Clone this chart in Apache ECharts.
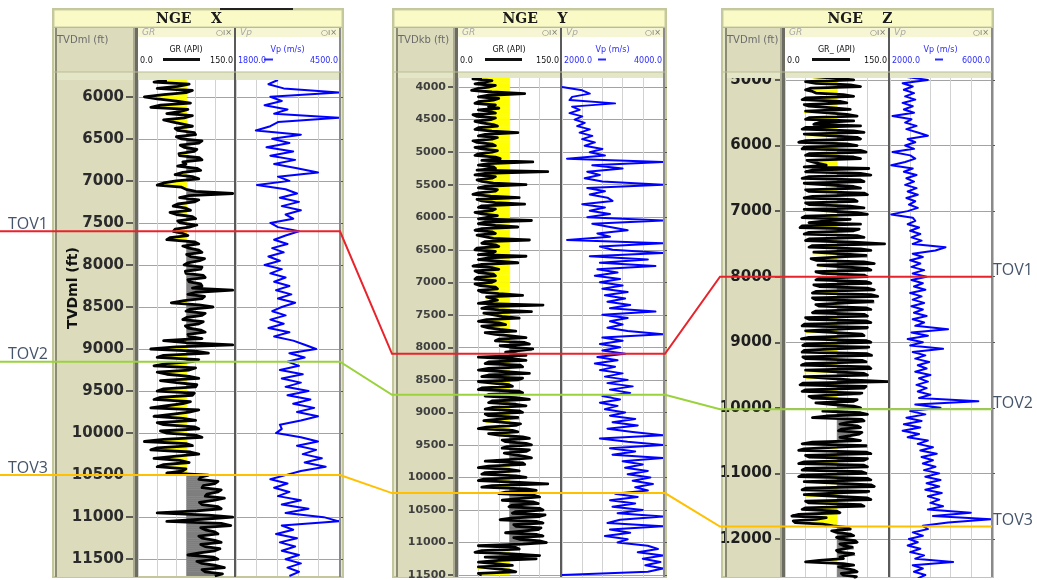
<!DOCTYPE html>
<html>
<head>
<meta charset="utf-8">
<title>NGE well correlation</title>
<script src="https://cdn.jsdelivr.net/npm/echarts@6.0.0/dist/echarts.min.js"></script>
<style>
  html, body { margin: 0; padding: 0; background: #ffffff; }
  #chart { width: 1037px; height: 580px; }
</style>
</head>
<body>
<div id="chart"></div>
<script>
// GR samples every 25 ft, Vp samples every 50 ft, from each well's top sample depth.
const GR_STEP = 25;
const VP_STEP = 50;

// ---------- Well NGE X ----------
const X_TOP = 5800;
const X_GR = [
  45, 25, 80, 62, 30, 85, 75, 40, 10, 30, 60, 82, 35, 20, 78, 65, 45, 85, 72, 40,            // 5800
  55, 70, 85, 58, 62, 88, 90, 60, 68, 100, 95, 66, 72, 92, 88, 64, 65, 96, 100, 70,         // 6300
  75, 62, 92, 98, 70, 58, 85, 95, 60, 40, 30, 68, 75, 90, 148, 80, 65, 95, 88, 62,          // 6800
  55, 75, 82, 50, 60, 85, 90, 62, 66, 92, 80, 58, 55, 70, 78, 50, 45, 88, 95, 70,           // 7300
  80, 95, 100, 76, 82, 104, 96, 78, 72, 100, 98, 74, 75, 102, 105, 78, 80, 98, 100, 85,     // 7800
  148, 90, 78, 104, 100, 72, 52, 95, 117, 82, 75, 105, 100, 76, 70, 102, 95, 74, 78, 98,    // 8300
  105, 78, 80, 100, 40, 75, 148, 60, 20, 90, 110, 40, 30, 95, 85, 45, 25, 90, 80, 30,       // 8800
  45, 80, 95, 35, 60, 92, 90, 40, 30, 88, 85, 35, 25, 82, 70, 45, 20, 95, 80, 55,           // 9300
  25, 70, 90, 30, 40, 88, 95, 35, 45, 90, 100, 40, 10, 75, 85, 30, 20, 82, 95, 60,          // 9800
  25, 65, 80, 40, 30, 75, 70, 45, 110, 98, 95, 125, 120, 102, 100, 130, 125, 108, 105, 135, // 10300
  118, 96, 100, 125, 130, 92, 30, 110, 148, 100, 45, 130, 145, 98, 105, 120, 125, 95, 100, 120, // 10800
  130, 98, 105, 128, 120, 96, 78, 118, 125, 92, 100, 122, 135, 100, 105, 132, 120           // 11300
];
const X_VP = [
  2900, 2650, 3050, 4500, 2700, 3000, 2550, 3150, 2800, 4500,   // 5800
  2900, 2700, 2320, 3500, 2750, 3200, 2600, 3300, 2700, 3350,   // 6300
  2800, 3400, 3950, 2900, 3200, 2350, 3100, 3400, 2950, 3450,   // 6800
  3000, 3500, 3100, 3300, 2700, 2900, 3450, 3100, 2800, 3150,   // 7300
  2750, 3050, 2650, 2950, 2550, 3000, 2700, 3100, 2800, 3200,   // 7800
  2850, 3250, 2900, 3350, 3000, 2750, 3100, 2700, 3050, 2650,   // 8300
  3200, 2800, 3300, 3600, 3900, 3200, 3600, 3150, 3450, 2950,   // 8800
  3550, 3000, 3500, 3100, 3700, 3150, 3750, 3300, 3850, 3400,   // 9300
  3950, 3500, 2950, 3000, 2850, 3500, 3950, 3400, 3900, 3550,   // 9800
  4050, 3600, 4150, 3500, 3100, 2700, 3150, 2800, 3200, 2900,   // 10300
  3500, 3000, 3700, 3100, 4100, 4500, 3000, 3300, 2850, 3400,   // 10800
  2950, 3350, 3000, 3450, 3100, 3500, 3150, 3450, 3200          // 11300
];
const X_DEPTH_RANGE = [5800, 11700];
const X_DEPTH_TICKS = [6000, 6500, 7000, 7500, 8000, 8500, 9000, 9500, 10000, 10500, 11000, 11500];
const X_VP_RANGE = [1800, 4500];
const X_PICKS = [7600, 9150, 10500];

// ---------- Well NGE Y ----------
const Y_TOP = 3850;
const Y_GR = [
  35, 22, 50, 40, 25, 55, 45, 28, 20, 50, 98, 45, 30, 60, 52, 30, 25, 55, 45, 60,           // 3850
  30, 48, 55, 22, 28, 55, 48, 25, 35, 52, 58, 30, 25, 50, 88, 40, 30, 58, 50, 22,           // 4350
  28, 50, 55, 25, 35, 58, 50, 30, 25, 55, 62, 35, 110, 45, 30, 52, 55, 28, 132, 40,         // 4850
  25, 55, 50, 28, 35, 52, 100, 40, 30, 58, 55, 30, 22, 48, 90, 28, 35, 55, 98, 35,          // 5350
  30, 55, 50, 25, 35, 58, 45, 30, 108, 40, 30, 55, 88, 35, 25, 50, 55, 28, 30, 52,          // 5850
  105, 40, 35, 55, 60, 28, 25, 55, 50, 30, 100, 45, 30, 58, 88, 35, 22, 50, 60, 25,         // 6350
  30, 52, 55, 28, 25, 55, 50, 25, 32, 55, 58, 30, 35, 60, 95, 42, 40, 58, 60, 30,           // 6850
  125, 45, 35, 60, 108, 38, 40, 65, 90, 42, 30, 60, 70, 35, 45, 62, 85, 40, 55, 78,         // 7350
  100, 60, 55, 98, 105, 62, 80, 110, 108, 70, 85, 100, 30, 80, 100, 45, 40, 92, 95, 45,     // 7850
  30, 70, 105, 45, 35, 95, 88, 30, 28, 75, 80, 35, 30, 90, 95, 45, 40, 85, 105, 50,         // 8350
  45, 85, 100, 50, 40, 90, 95, 40, 45, 88, 90, 38, 40, 92, 85, 42, 30, 80, 88, 45,          // 8850
  60, 95, 105, 65, 70, 100, 108, 72, 65, 105, 100, 68, 70, 98, 108, 75, 40, 95, 98, 45,     // 9350
  30, 75, 90, 40, 35, 85, 100, 38, 30, 90, 132, 50, 35, 100, 115, 70, 60, 112, 120, 90,     // 9850
  65, 110, 118, 80, 75, 120, 125, 85, 80, 128, 120, 78, 62, 115, 125, 82, 85, 122, 118, 95, // 10350
  70, 115, 125, 82, 90, 120, 130, 95, 30, 85, 90, 35, 25, 80, 120, 40, 115, 60, 30, 55,     // 10850
  80, 30, 28, 75, 85, 30, 35                                                                // 11350
];
const Y_VP = [
  null, null, null, 2000, 2400, 2550, 2200, 2150, 3050, 2200,   // 3850
  2350, 2150, 2400, 2250, 2450, 2300, 2550, 2350, 2600, 2400,   // 4350
  2650, 2450, 2800, 2550, 2850, 2100, 4000, 2600, 3200, 2500,   // 4850
  2750, 2450, 2800, 4000, 2500, 2850, 2550, 2900, 3000, 2400,   // 5350
  2850, 2550, 2950, 2500, 4000, 2600, 2950, 3300, 2700, 2950,   // 5850
  2100, 4000, 2750, 3000, 4000, 2550, 3700, 2750, 3850, 2700,   // 6350
  3100, 2650, 3150, 2750, 3200, 2800, 3300, 2850, 3250, 2900,   // 6850
  3350, 2950, 3850, 2800, 3300, 2950, 3200, 2900, 3300, 4000,   // 7350
  2800, 3200, 2750, 3150, 2800, 3250, 2700, 3100, 2650, 3050,   // 7850
  2750, 3200, 2850, 3300, 2900, 3400, 2950, 3350, 2800, 3150,   // 8350
  2750, 3100, 2850, 3250, 2950, 3450, 3000, 3500, 2900, 3400,   // 8850
  4000, 2750, 3300, 4000, 2950, 3450, 3000, 4000, 3200, 3600,   // 9350
  3250, 3700, 3300, 3750, 3400, 3800, 3450, 3700, 3050, 3500,   // 9850
  2950, 3450, 3000, 3600, 3100, 4000, 3150, 2900, 4000, 2950,   // 10350
  3350, 2850, 3300, 3100, 3700, 3900, 3500, 4000, 3600, 3950,   // 10850
  3650, 4000, 3700, 2000                                        // 11350
];
const Y_DEPTH_RANGE = [3860, 11530];
const Y_DEPTH_TICKS = [4000, 4500, 5000, 5500, 6000, 6500, 7000, 7500, 8000, 8500, 9000, 9500, 10000, 10500, 11000, 11500];
const Y_VP_RANGE = [2000, 4000];
const Y_PICKS = [8100, 8730, 10240];

// ---------- Well NGE Z ----------
const Z_TOP = 4950;
const Z_GR = [
  40, 75, 100, 30, 45, 95, 110, 38, 30, 40, 45, 85, 100, 30, 25, 80, 90, 28, 35, 70,        // 4950
  95, 30, 28, 90, 105, 35, 30, 100, 50, 42, 110, 30, 25, 100, 115, 28, 30, 105, 110, 30,    // 5450
  20, 90, 105, 28, 25, 110, 118, 35, 30, 100, 110, 32, 40, 50, 60, 28, 122, 40, 30, 110,    // 5950
  125, 35, 25, 110, 115, 28, 30, 100, 110, 30, 35, 115, 120, 40, 28, 100, 105, 30, 35, 95,  // 6450
  115, 28, 30, 105, 120, 30, 25, 95, 60, 35, 110, 25, 22, 108, 100, 35, 28, 105, 115, 35,   // 6950
  30, 100, 145, 40, 35, 110, 125, 42, 40, 118, 120, 38, 45, 115, 130, 48, 50, 120, 125, 45, // 7450
  55, 115, 120, 50, 45, 118, 125, 42, 50, 120, 130, 45, 40, 125, 135, 40, 45, 128, 130, 45, // 7950
  50, 118, 125, 45, 40, 115, 120, 30, 35, 118, 125, 28, 25, 120, 120, 30, 30, 112, 115, 35, // 8450
  24, 118, 125, 30, 26, 122, 120, 28, 25, 120, 126, 26, 30, 112, 118, 30, 24, 122, 125, 30, // 8950
  28, 115, 120, 28, 30, 95, 150, 26, 22, 118, 115, 30, 25, 112, 110, 35, 40, 105, 100, 45,  // 9450
  70, 100, 110, 75, 55, 110, 120, 60, 40, 112, 115, 90, 80, 105, 110, 82, 78, 112, 108, 95, // 9950
  80, 95, 110, 40, 25, 118, 120, 28, 20, 118, 125, 30, 35, 120, 115, 28, 20, 115, 120, 30,  // 10450
  25, 112, 118, 25, 20, 120, 125, 28, 30, 125, 130, 30, 25, 122, 120, 28, 30, 120, 125, 30, // 10950
  35, 110, 115, 30, 25, 75, 80, 20, 10, 60, 45, 12, 15, 55, 70, 90, 95, 68, 75, 95,         // 11450
  100, 75, 80, 102, 105, 80, 85, 98, 100, 75, 78, 100, 102, 80, 85, 50, 30, 85, 100, 78,    // 11950
  80, 100, 105, 82, 85, 104, 100                                                            // 12450
];
const Z_VP = [
  2600, 3500, 2500, 2900, 2550, 2950, 2600, 3000, 2500, 2900,   // 4950
  2550, 2950, 2100, 2850, 2600, 3050, 2650, 3100, 3500, 2700,   // 5450
  3000, 2600, 2950, 2100, 2800, 3000, 2600, 2050, 2900, 2550,   // 5950
  3050, 2650, 2950, 2600, 3050, 2700, 3100, 2650, 3000, 2750,   // 6450
  3100, 2700, 2050, 2900, 3000, 2700, 3150, 2800, 3200, 2850,   // 6950
  3250, 2900, 4200, 3800, 2900, 3300, 2800, 3200, 2850, 3350,   // 7450
  2900, 3450, 2850, 3300, 2950, 3400, 2800, 3250, 2900, 3350,   // 7950
  2850, 3300, 2950, 3450, 2900, 3350, 3000, 4300, 2850, 3500,   // 8450
  2700, 3300, 2800, 4100, 2900, 3400, 3000, 3550, 3100, 3450,   // 8950
  3000, 3600, 3150, 3500, 3050, 3450, 3100, 3600, 3150, 5500,   // 9450
  3000, 4000, 2800, 3400, 2650, 3250, 2550, 3200, 2500, 3150,   // 9950
  2700, 3500, 3100, 3700, 3200, 3850, 3250, 3700, 3300, 3800,   // 10450
  3350, 3950, 3400, 4000, 3450, 3950, 3400, 4050, 3500, 3950,   // 10950
  3600, 4100, 3500, 5200, 3700, 6000, 4300, 3300, 3500, 2900,   // 11450
  3300, 2750, 3100, 2700, 3200, 2800, 3350, 3000, 4500, 2900,   // 11950
  3300, 2950, 3400, 3100                                        // 12450
];
const Z_DEPTH_RANGE = [4970, 12580];
const Z_DEPTH_TICKS = [5000, 6000, 7000, 8000, 9000, 10000, 11000, 12000];
const Z_VP_RANGE = [2000, 6000];
const Z_PICKS = [8000, 10020, 11810];

// Shared track settings
const GR_RANGE = [0, 150];
const GR_CUTOFF = 76;
const HORIZONS = ['TOV1', 'TOV2', 'TOV3'];
const HORIZON_COLORS = ['#e8232b', '#9ad23c', '#ffc000'];

const WELLS = [
  { title: 'NGE    X', depthName: 'TVDml (ft)', grName: 'GR (API)', top: X_TOP, gr: X_GR, vp: X_VP,
    depthRange: X_DEPTH_RANGE, ticks: X_DEPTH_TICKS, vpRange: X_VP_RANGE, picks: X_PICKS, tickStep: 500 },
  { title: 'NGE    Y', depthName: 'TVDkb (ft)', grName: 'GR (API)', top: Y_TOP, gr: Y_GR, vp: Y_VP,
    depthRange: Y_DEPTH_RANGE, ticks: Y_DEPTH_TICKS, vpRange: Y_VP_RANGE, picks: Y_PICKS, tickStep: 500 },
  { title: 'NGE    Z', depthName: 'TVDml (ft)', grName: 'GR_ (API)', top: Z_TOP, gr: Z_GR, vp: Z_VP,
    depthRange: Z_DEPTH_RANGE, ticks: Z_DEPTH_TICKS, vpRange: Z_VP_RANGE, picks: Z_PICKS, tickStep: 1000 }
];

// Page layout of the three log panels (pixels)
const LAYOUT = [
  { left: 53, right: 343, depthL: 55, gr: [138, 234], vp: [236, 339], plotTop: 80, plotBottom: 576, titleX: 189,
    grDash: [163, 200], vpDash: [264, 273], labelFont: 15, labelColor: '#2b2b2b', tickLen: 12, labelMargin: 14, splitNumber: 12 },
  { left: 393, right: 666, depthL: 396, gr: [458, 560], vp: [562, 663], plotTop: 78, plotBottom: 577, titleX: 535,
    grDash: [485, 522], vpDash: [598, 606], labelFont: 11, labelColor: '#3f3f3f', tickLen: 10, labelMargin: 12, splitNumber: 15 },
  { left: 722, right: 993, depthL: 725, gr: [785, 888], vp: [890, 991], plotTop: 78, plotBottom: 577, titleX: 860,
    grDash: [812, 850], vpDash: [935, 943], labelFont: 15, labelColor: '#1e1e1e', tickLen: 10, labelMargin: 13, splitNumber: 8 }
];
const LINK_X = [0, 340, 392, 665, 720, 992];

const SAND = '#ffff00';
const SHALE = '#7f7f7f';

function curve(values, top, step) {
  const out = [];
  values.forEach(function (v, i) { if (v != null) out.push([v, top + i * step]); });
  return out;
}
function fillSegments(values, top, step) {
  const out = [];
  for (let i = 0; i + 1 < values.length; i++) {
    if (values[i] == null || values[i + 1] == null) continue;
    out.push([values[i], top + i * step, values[i + 1], top + (i + 1) * step]);
  }
  return out;
}

// Shading between the GR curve and the sand/shale cutoff
function fillItem(params, api) {
  const a = [api.value(0), api.value(1)];
  const b = [api.value(2), api.value(3)];
  const cs = params.coordSys;
  const rect = { x: cs.x, y: cs.y, width: cs.width, height: cs.height };
  const children = [];
  function add(p, q, col) {
    const pts = [api.coord(p), api.coord(q), api.coord([GR_CUTOFF, q[1]]), api.coord([GR_CUTOFF, p[1]])];
    const clipped = echarts.graphic.clipPointsByRect(pts, rect);
    children.push({ type: 'polygon', shape: { points: clipped }, style: { fill: col, stroke: col, lineWidth: 0.6 } });
  }
  const la = a[0] < GR_CUTOFF, lb = b[0] < GR_CUTOFF;
  if (la === lb) {
    add(a, b, la ? SAND : SHALE);
  } else {
    const t = (GR_CUTOFF - a[0]) / (b[0] - a[0]);
    const m = [GR_CUTOFF, a[1] + t * (b[1] - a[1])];
    add(a, m, la ? SAND : SHALE);
    add(m, b, lb ? SAND : SHALE);
  }
  return { type: 'group', children: children };
}

const grids = [], xAxes = [], yAxes = [], series = [];
WELLS.forEach(function (w, p) {
  const L = LAYOUT[p];
  const h = L.plotBottom - L.plotTop;
  [L.gr, L.vp].forEach(function (tr) {
    grids.push({ left: tr[0], top: L.plotTop, width: tr[1] - tr[0], height: h, show: true,
      backgroundColor: '#ffffff', borderWidth: 0, outerBoundsMode: 'none', containLabel: false });
  });
  const xr = [GR_RANGE, w.vpRange];
  xr.forEach(function (r, k) {
    xAxes.push({ gridIndex: 2 * p + k, type: 'value', min: r[0], max: r[1], interval: (r[1] - r[0]) / 5,
      axisLine: { show: false }, axisTick: { show: false }, axisLabel: { show: false },
      splitLine: { show: true, lineStyle: { color: '#d2d2d2', width: 1 } } });
  });
  const fmt = function (v) { return v % w.tickStep === 0 ? String(v) : ''; };
  yAxes.push({ gridIndex: 2 * p, type: 'value', inverse: true, min: w.depthRange[0], max: w.depthRange[1],
    splitNumber: L.splitNumber, position: 'left',
    axisLine: { show: false },
    axisTick: { show: true, inside: false, length: L.tickLen, customValues: w.ticks, lineStyle: { color: '#333333', width: 1.5 } },
    axisLabel: { show: true, customValues: w.ticks, formatter: fmt, margin: L.labelMargin, color: L.labelColor,
      fontSize: L.labelFont, fontWeight: 'bold', fontFamily: 'DejaVu Sans' },
    splitLine: { show: true, lineStyle: { color: '#a3a3a3', width: 1 } } });
  yAxes.push({ gridIndex: 2 * p + 1, type: 'value', inverse: true, min: w.depthRange[0], max: w.depthRange[1],
    splitNumber: L.splitNumber, position: 'right',
    axisLine: { show: false },
    axisTick: { show: true, inside: false, length: 4, customValues: w.ticks, lineStyle: { color: '#555555', width: 1 } },
    axisLabel: { show: false },
    splitLine: { show: true, lineStyle: { color: '#a3a3a3', width: 1 } } });

  series.push({ type: 'custom', name: w.title + ' GR fill', xAxisIndex: 2 * p, yAxisIndex: 2 * p,
    renderItem: fillItem, data: fillSegments(w.gr, w.top, GR_STEP), encode: { x: [0, 2], y: [1, 3] },
    clip: true, silent: true, z: 1 });
  series.push({ type: 'line', name: w.title + ' GR', xAxisIndex: 2 * p, yAxisIndex: 2 * p,
    data: curve(w.gr, w.top, GR_STEP), symbol: 'none', showSymbol: false, clip: true, silent: true,
    lineStyle: { color: '#000000', width: 2.8, join: 'round' }, z: 3 });
  series.push({ type: 'line', name: w.title + ' Vp', xAxisIndex: 2 * p + 1, yAxisIndex: 2 * p + 1,
    data: curve(w.vp, w.top, VP_STEP), symbol: 'none', showSymbol: false, clip: true, silent: true,
    lineStyle: { color: '#0000ff', width: 2.0, join: 'round' }, z: 3 });
});

const chart = echarts.init(document.getElementById('chart'), null, { renderer: 'canvas' });
chart.setOption({
  animation: false,
  backgroundColor: '#ffffff',
  grid: grids, xAxis: xAxes, yAxis: yAxes, series: series
});

// ---------- panel frames, headers and horizon correlation ----------
const gfx = [];
function txt(x, y, text, font, fill, align, vAlign, z, extra) {
  const el = { type: 'text', x: x, y: y, z: z, silent: true,
    style: { text: text, font: font, fill: fill, align: align, verticalAlign: vAlign,
      textAlign: align, textVerticalAlign: vAlign } };
  if (extra) Object.assign(el, extra);
  gfx.push(el);
}
function box(x, y, w, h, fill, z, stroke, lw) {
  gfx.push({ type: 'rect', z: z, silent: true, shape: { x: x, y: y, width: w, height: h },
    style: { fill: fill, stroke: stroke || null, lineWidth: lw || 0 } });
}
function seg(x1, y1, x2, y2, color, width, z) {
  gfx.push({ type: 'line', z: z, silent: true, shape: { x1: x1, y1: y1, x2: x2, y2: y2 },
    style: { stroke: color, lineWidth: width } });
}

WELLS.forEach(function (w, p) {
  const L = LAYOUT[p];
  const W = L.right - L.left;
  box(L.left, 9, W, 568, '#e5e7cb', -10, '#c3c79b', 2);
  box(L.left + 1, 10, W - 2, 17, '#fafac6', -9, '#c9cda3', 1);
  txt(L.titleX, 19, w.title, 'bold 14px "DejaVu Serif"', '#1a1a1a', 'center', 'middle', -8);
  box(L.depthL, 28, L.gr[0] - L.depthL, 549, '#dcdcbd', -9);
  txt(L.depthL + 2, 40, w.depthName, '10px "DejaVu Sans"', '#6a6a6a', 'left', 'middle', -8);

  const tracks = [
    { r: L.gr, name: 'GR', mnem: w.grName, range: GR_RANGE, color: '#111111', dash: L.grDash, dashW: 3 },
    { r: L.vp, name: 'Vp', mnem: 'Vp (m/s)', range: w.vpRange, color: '#2b2bff', dash: L.vpDash, dashW: 2 }
  ];
  tracks.forEach(function (t) {
    const x0 = t.r[0], x1 = t.r[1];
    box(x0, 28, x1 - x0, 9, '#f6f6d4', -9);
    box(x0, 37, x1 - x0, 35, '#ffffff', -9);
    txt(x0 + 4, 33, t.name, 'italic 9px "DejaVu Sans"', '#a8a8a8', 'left', 'middle', -8);
    txt(x1 - 2, 33, '○ı×', '8px "DejaVu Sans"', '#777777', 'right', 'middle', -8);
    txt((x0 + x1) / 2, 50, t.mnem, '8px "DejaVu Sans"', t.color, 'center', 'middle', -8);
    txt(x0 + 2, 61, t.range[0].toFixed(1), '8px "DejaVu Sans"', t.color, 'left', 'middle', -8);
    txt(x1 - 1, 61, t.range[1].toFixed(1), '8px "DejaVu Sans"', t.color, 'right', 'middle', -8);
    seg(t.dash[0], 59.5, t.dash[1], 59.5, t.color, t.dashW, -8);
  });

  // strip between header and plot, track borders
  box(L.left + 1, 72, W - 2, L.plotTop - 72, '#e4e6c8', 50);
  box(L.depthL, 28, 2, 549, '#8c8c74', 50);
  box(L.gr[0] - 5, 28, 2, 549, '#aaa992', 50);
  box(L.gr[0] - 3, 28, 3, 549, '#6c6c62', 50);
  box(L.gr[1], 28, L.vp[0] - L.gr[1], 549, '#5a5a5a', 50);
  box(L.vp[1], 28, 2, 549, '#8a8a8a', 50);
  seg(L.left + 1, 27.5, L.right - 1, 27.5, '#b9bd92', 1, 50);
  seg(L.left + 1, 72, L.right - 1, 72, '#b9bd92', 1, 50);
});

// depth axis title of the first panel
txt(73, 288, 'TVDml (ft)', 'bold 14px "DejaVu Sans"', '#111111', 'center', 'middle', 50, { rotation: Math.PI / 2 });
// short dark rule above the first panel
box(220, 8, 73, 2, '#222222', 60);

// horizon correlation lines, positioned through each well's depth axis
HORIZONS.forEach(function (name, k) {
  const ys = WELLS.map(function (w, p) { return chart.convertToPixel({ yAxisIndex: 2 * p }, w.picks[k]); });
  const pts = [[LINK_X[0], ys[0]], [LINK_X[1], ys[0]], [LINK_X[2], ys[1]],
               [LINK_X[3], ys[1]], [LINK_X[4], ys[2]], [LINK_X[5], ys[2]]];
  gfx.push({ type: 'polyline', z: 70, silent: true, shape: { points: pts },
    style: { stroke: HORIZON_COLORS[k], lineWidth: 2, fill: null } });
  txt(8, ys[0] + 1, name, '16px "Open Sans"', '#44546a', 'left', 'bottom', 71);
  txt(993, ys[2] + 2, name, '16px "Open Sans"', '#44546a', 'left', 'bottom', 71);
});

chart.setOption({ graphic: { elements: gfx } });
</script>
</body>
</html>
